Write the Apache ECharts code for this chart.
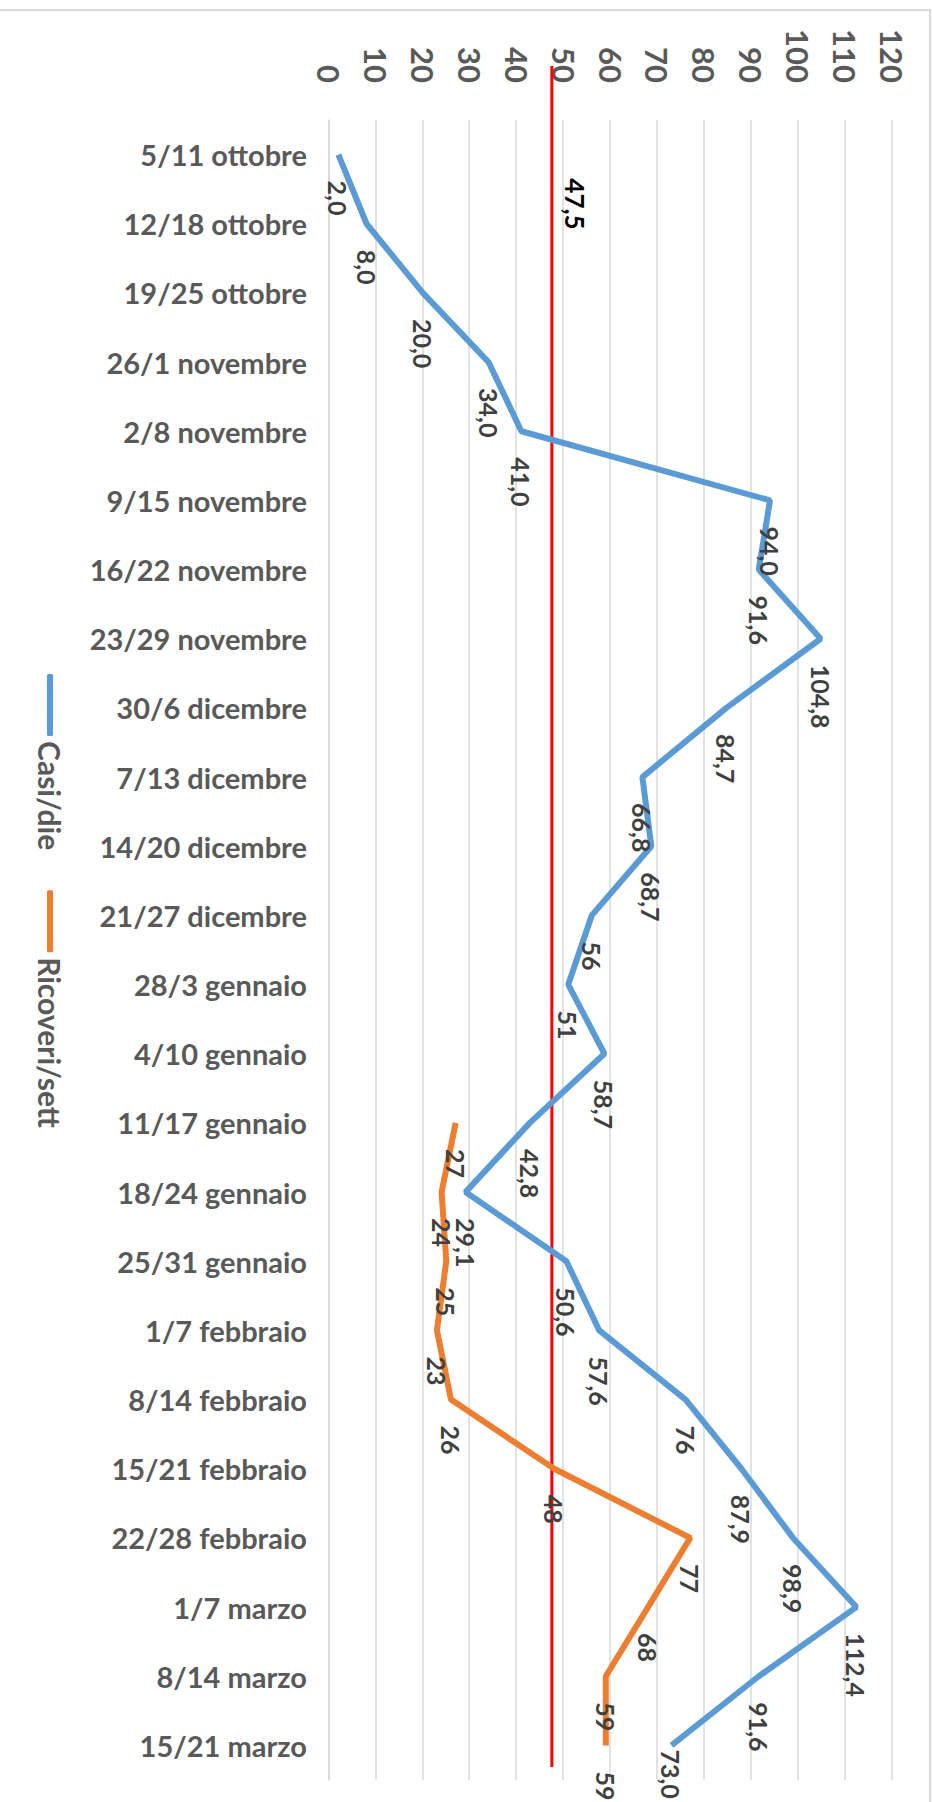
<!DOCTYPE html>
<html>
<head>
<meta charset="utf-8">
<script src="https://cdn.jsdelivr.net/npm/echarts@6/dist/echarts.min.js"></script>
<style>
  html, body { margin: 0; padding: 0; background: #fff; overflow: hidden; }
  body { width: 932px; height: 1802px; position: relative; }
  /* chart is drawn landscape, then turned a quarter turn clockwise */
  #chart {
    position: absolute; left: 0; top: 0;
    width: 1802px; height: 932px;
    transform-origin: 0 0;
    transform: matrix(0, 1, -1, 0, 932, 0);
  }
</style>
</head>
<body>
<div id="chart"></div>
<script>
const categories = [
  '5/11 ottobre', '12/18 ottobre', '19/25 ottobre', '26/1 novembre',
  '2/8 novembre', '9/15 novembre', '16/22 novembre', '23/29 novembre',
  '30/6 dicembre', '7/13 dicembre', '14/20 dicembre', '21/27 dicembre',
  '28/3 gennaio', '4/10 gennaio', '11/17 gennaio', '18/24 gennaio',
  '25/31 gennaio', '1/7 febbraio', '8/14 febbraio', '15/21 febbraio',
  '22/28 febbraio', '1/7 marzo', '8/14 marzo', '15/21 marzo'
]

const casiDie = [2.0, 8.0, 20.0, 34.0, 41.0, 94.0, 91.6, 104.8, 84.7, 66.8, 68.7, 56,
  51, 58.7, 42.8, 29.1, 50.6, 57.6, 76, 87.9, 98.9, 112.4, 91.6, 73.0]
const casiDieLabels = ['2,0', '8,0', '20,0', '34,0', '41,0', '94,0', '91,6', '104,8', '84,7',
  '66,8', '68,7', '56', '51', '58,7', '42,8', '29,1', '50,6', '57,6', '76', '87,9', '98,9',
  '112,4', '91,6', '73,0']

const ricoveriSett = [null, null, null, null, null, null, null, null, null, null, null, null,
  null, null, 27, 24, 25, 23, 26, 48, 77, 68, 59, 59]

const soglia = 47.5
const sogliaLabel = '47,5'

const valueTicks = { min: 0, max: 120, interval: 10 }

const FONT = 'Lato'
const GREY = '#595959'
const GRID_LINE = '#d9d9d9'
const BLUE = '#5B9BD5'
const ORANGE = '#ED7D31'

const chart = echarts.init(document.getElementById('chart'), null, { renderer: 'svg' })

const dataLabel = {
  show: true,
  position: 'right',
  distance: 26,
  fontFamily: FONT,
  fontSize: 25,
  fontWeight: 'bold',
  color: '#404040'
}

// the last blue label sits close to its point so it fits at the edge
const casiDieData = casiDie.map((v, i) =>
  i === casiDie.length - 1 ? { value: v, label: { distance: 4 } } : v)

chart.setOption({
  animation: false,
  backgroundColor: '#fff',
  graphic: [{
    type: 'rect',
    shape: { x: 10, y: 2, width: 1900, height: 1000 },
    style: { fill: 'none', stroke: GRID_LINE, lineWidth: 2 },
    silent: true
  }],
  legend: {
    bottom: 30,
    left: 'center',
    itemWidth: 62,
    itemHeight: 6,
    itemGap: 40,
    data: [
      { name: 'Casi/die', icon: 'roundRect', itemStyle: { color: BLUE } },
      { name: 'Ricoveri/sett', icon: 'roundRect', itemStyle: { color: ORANGE } }
    ],
    textStyle: { fontFamily: FONT, fontSize: 30, fontWeight: 'bold', color: GREY }
  },
  grid: [
    { left: 120, right: 22, top: 40, bottom: 329 },
    { left: 66, right: 35, top: 40, bottom: 329 }
  ],
  xAxis: [{
    type: 'category',
    data: categories,
    boundaryGap: true,
    axisTick: { show: false },
    axisLine: { lineStyle: { color: GRID_LINE, width: 1.5 } },
    axisLabel: {
      interval: 0,
      rotate: 90,
      margin: 22,
      fontFamily: FONT,
      fontSize: 29,
      fontWeight: 'bold',
      color: GREY
    }
  }, {
    type: 'value',
    gridIndex: 1,
    min: 0,
    max: 1,
    show: false
  }],
  yAxis: [{
    type: 'value',
    min: valueTicks.min,
    max: valueTicks.max,
    interval: valueTicks.interval,
    axisLine: { show: false },
    axisTick: { show: false },
    splitLine: { lineStyle: { color: GRID_LINE, width: 1.5 } },
    axisLabel: {
      margin: 37,
      fontFamily: FONT,
      fontSize: 31,
      fontWeight: 'bold',
      color: GREY
    }
  }, {
    type: 'value',
    gridIndex: 1,
    min: valueTicks.min,
    max: valueTicks.max,
    show: false
  }],
  series: [{
    name: 'Casi/die',
    type: 'line',
    data: casiDieData,
    symbol: 'circle',
    symbolSize: 0,
    showSymbol: true,
    color: BLUE,
    lineStyle: { width: 6, color: BLUE },
    label: Object.assign({}, dataLabel, {
      formatter: p => casiDieLabels[p.dataIndex]
    }),
    z: 3
  }, {
    name: 'Ricoveri/sett',
    type: 'line',
    data: ricoveriSett,
    symbol: 'circle',
    symbolSize: 0,
    showSymbol: true,
    color: ORANGE,
    lineStyle: { width: 6, color: ORANGE },
    label: dataLabel,
    z: 3
  }, {
    name: 'soglia',
    type: 'line',
    xAxisIndex: 1,
    yAxisIndex: 1,
    symbol: 'circle',
    symbolSize: 0,
    showSymbol: true,
    color: '#FF0000',
    lineStyle: { width: 3, color: '#FF0000' },
    data: [
      {
        value: [0, soglia],
        label: {
          show: true,
          position: 'top',
          distance: 10,
          offset: [138, 0],
          formatter: sogliaLabel,
          fontFamily: FONT,
          fontSize: 26,
          fontWeight: 'bold',
          color: '#000'
        }
      },
      [1, soglia]
    ],
    z: 2
  }]
})
</script>
</body>
</html>
